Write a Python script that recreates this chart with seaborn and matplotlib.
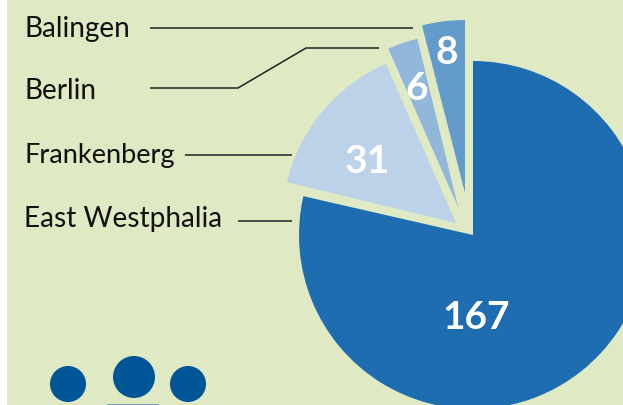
import matplotlib
matplotlib.use('Agg')
import matplotlib.pyplot as plt
from matplotlib.patches import Circle, Rectangle
import seaborn as sns

regions = ['East Westphalia', 'Frankenberg', 'Berlin', 'Balingen']
counts = [167, 31, 6, 8]
colors = ['#1f6db1', '#bbd2e8', '#91b8da', '#639bcb']

sns.set_theme(style='white')
plt.rcParams['font.family'] = ['Lato', 'DejaVu Sans']

bg = '#dfe9c3'
W, H = 623, 406
Y0 = H - 1  # picture y to axes y
fig = plt.figure(figsize=(W / 100, H / 100), dpi=100, facecolor='white')
ax = fig.add_axes([0, 0, 1, 1])

wedges, _ = ax.pie(counts, colors=colors, startangle=90, counterclock=False,
                   center=(473, Y0 - 235), radius=174,
                   wedgeprops=dict(linewidth=0, zorder=2))
ax.set_xlim(0, W)
ax.set_ylim(0, H)
ax.set_aspect('equal')
ax.axvspan(7, W, color=bg, lw=0, zorder=0)

# the small slices are pulled out further than the big one
wedges[0].set_theta1(wedges[0].theta1 + 0.7)
wedges[1].set_center((456, Y0 - 223))
wedges[2].set_center((458, Y0 - 207))
wedges[2].set_radius(173)
wedges[3].set_center((465, Y0 - 193))
wedges[3].set_radius(173)
wedges[3].set_theta2(wedges[3].theta2 + 0.8)

label_pos = [(24, 218), (24, 155), (24, 90), (24, 28)]
label_size = [20.2, 19.6, 20.2, 20.2]
for name, (x, y), s in zip(regions, label_pos, label_size):
    ax.text(x, Y0 - y, name, fontsize=s, color='#111111', va='center', ha='left')

value_pos = [(476, 317), (367, 161), (417, 88), (447, 52)]
for n, (x, y) in zip(counts, value_pos):
    ax.text(x, Y0 - y, str(n), fontsize=28, fontweight='bold', color='white',
            va='center', ha='center', zorder=3)

# leader lines
line_kw = dict(color='#222222', lw=1.1, zorder=1, solid_capstyle='butt', solid_joinstyle='miter')
ax.plot([150, 413], [Y0 - 28, Y0 - 28], **line_kw)
ax.plot([150, 238, 306, 379], [Y0 - 88, Y0 - 88, Y0 - 48, Y0 - 48], **line_kw)
ax.plot([185, 292], [Y0 - 155, Y0 - 155], **line_kw)
ax.plot([238, 292], [Y0 - 221, Y0 - 221], **line_kw)

# people icon at the bottom
dot = '#005596'
for cx, cy, r in [(68, 384, 18), (134, 377, 21), (188, 384, 18)]:
    ax.add_patch(Circle((cx, Y0 - cy), r, color=dot, lw=0, zorder=2))
ax.add_patch(Rectangle((107, 0), 52, 1.5, color='#7f9fb0', lw=0, zorder=2))

fig.savefig('out.png', dpi=100)
